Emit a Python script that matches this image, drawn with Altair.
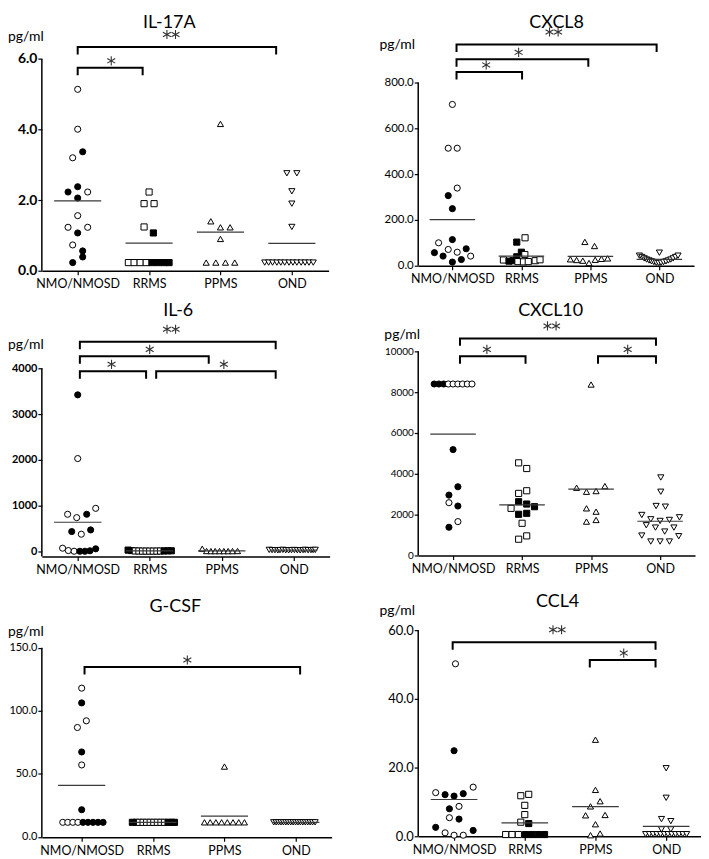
import json
import altair as alt
import pandas as pd

GROUPS = ["NMO/NMOSD", "RRMS", "PPMS", "OND"]
SHAPES = ["circle", "square", "triangle-up", "triangle-down"]

# ---------------- IL-17A ----------------
IL17A_GROUP = [0]*16 + [1]*13 + [2]*9 + [3]*18
IL17A_OFFSET = [0, 0, 0.07, -0.07, 0, -0.135, 0.14, 0, 0, -0.135, 0.14, 0, -0.07, 0.07, 0.07, -0.07,
                0, -0.07, 0.07, -0.07, 0.06, -0.29, -0.21, -0.125, -0.04, 0.04, 0.125, 0.21, 0.28,
                0, -0.135, 0, 0.135, 0, -0.2, -0.065, 0.07, 0.2,
                -0.07, 0.07, 0, 0, 0, -0.38, -0.325, -0.27, -0.21, -0.155, -0.1, -0.04, 0.015, 0.07,
                0.13, 0.185, 0.24, 0.30]
IL17A_VALUE = [5.14, 4.01, 3.37, 3.20, 2.38, 2.23, 2.23, 2.06, 1.56, 1.23, 1.23, 1.07, 0.73, 0.56, 0.39, 0.23,
               2.23, 1.90, 1.90, 1.24, 1.07, 0.23, 0.23, 0.23, 0.23, 0.23, 0.23, 0.23, 0.23,
               4.16, 1.40, 1.23, 1.23, 0.90, 0.23, 0.23, 0.23, 0.23,
               2.76, 2.76, 2.25, 1.90, 1.24, 0.23, 0.23, 0.23, 0.23, 0.23, 0.23, 0.23, 0.23, 0.23,
               0.23, 0.23, 0.23, 0.23]
IL17A_SOLID = [0, 0, 1, 0, 1, 1, 0, 1, 0, 0, 0, 1, 0, 1, 1, 1,
               0, 0, 0, 0, 1, 0, 0, 0, 0, 1, 1, 1, 1,
               0, 0, 0, 0, 0, 0, 0, 0, 0,
               0, 0, 0, 0, 0, 0, 0, 0, 0, 0, 0, 0, 0, 0, 0, 0, 0, 0]
IL17A_BR_FROM = [0.0, 0.0]
IL17A_BR_TO = [0.91, 2.78]
IL17A_BR_LEVEL = [5.75, 6.34]
IL17A_BR_LABEL = ["*", "**"]
IL17A_STAR_X = [0.47, 1.31]

# ---------------- CXCL8 ----------------
CXCL8_GROUP = [0]*16 + [1]*13 + [2]*9 + [3]*18
CXCL8_OFFSET = [0, -0.06, 0.07, 0.07, -0.06, 0, 0, -0.2, -0.06, -0.26, 0.07, 0.2, -0.135, 0.265, 0, 0.13,
                0.053, -0.067, 0, 0.05, -0.067, -0.26, -0.18, -0.12, -0.05, 0.03, 0.1, 0.2, 0.27,
                -0.08, 0.06, -0.29, -0.2, -0.11, -0.02, 0.07, 0.16, 0.25,
                0, -0.29, -0.255, -0.22, -0.185, -0.15, -0.115, -0.08, -0.045, -0.01, 0.025, 0.06,
                0.095, 0.13, 0.165, 0.2, 0.235, 0.27]
CXCL8_VALUE = [704, 513, 513, 339, 306, 249, 114, 100, 71, 57, 59, 74, 42, 42, 16, 27,
               122, 103, 59, 49, 39, 25, 20, 22, 18, 17, 18, 22, 26,
               104, 86, 28, 25, 22, 12, 26, 30, 32,
               57, 44, 38, 32, 27, 23, 19, 16, 13, 12, 13, 16, 19, 23, 27, 32, 38, 44]
CXCL8_SOLID = [0, 0, 0, 0, 1, 1, 1, 0, 0, 1, 0, 1, 1, 0, 1, 1,
               0, 1, 1, 0, 1, 0, 1, 1, 0, 0, 0, 0, 0,
               0, 0, 0, 0, 0, 0, 0, 0, 0,
               0, 0, 0, 0, 0, 0, 0, 0, 0, 0, 0, 0, 0, 0, 0, 0, 0, 0]
CXCL8_BR_FROM = [0.06, 0.06, 0.06]
CXCL8_BR_TO = [1.01, 1.97, 2.96]
CXCL8_BR_LEVEL = [846, 901, 966]
CXCL8_BR_LABEL = ["*", "*", "**"]
CXCL8_STAR_X = [0.49, 0.96, 1.47]

# ---------------- IL-6 ----------------
IL6_GROUP = [0]*16 + [1]*13 + [2]*9 + [3]*18
IL6_OFFSET = [0, 0, 0.25, -0.14, -0.014, 0.125, -0.083, 0.05, 0.18, -0.21, -0.13, -0.05, 0.03, 0.1, 0.17, 0.25,
              -0.3, -0.25, -0.2, -0.15, -0.1, -0.05, 0, 0.05, 0.1, 0.15, 0.2, 0.25, 0.3,
              -0.27, -0.21, -0.15, -0.09, -0.03, 0.03, 0.09, 0.15, 0.22,
              -0.34, -0.3, -0.26, -0.22, -0.19, -0.15, -0.11, -0.07, -0.03, 0.01, 0.05, 0.09,
              0.13, 0.16, 0.2, 0.24, 0.27, 0.3]
IL6_VALUE = [3420, 2029, 942, 812, 739, 812, 435, 377, 471, 72, 20, 5, 5, 5, 15, 58,
             30, 20, 12, 10, 8, 8, 8, 8, 8, 10, 12, 15, 15,
             60, 10, 8, 8, 8, 8, 8, 8, 10,
             35, 30, 28, 25, 30, 35, 28, 25, 30, 32, 28, 25, 30, 35, 28, 30, 32, 35]
IL6_SOLID = [1, 0, 0, 0, 0, 1, 1, 0, 1, 0, 0, 0, 1, 1, 1, 1,
             1, 1, 0, 0, 0, 0, 0, 0, 0, 0, 1, 1, 1,
             0, 0, 0, 0, 0, 0, 0, 0, 0,
             0, 0, 0, 0, 0, 0, 0, 0, 0, 0, 0, 0, 0, 0, 0, 0, 0, 0]
IL6_BR_FROM = [0.03, 1.09, 0.03, 0.03]
IL6_BR_TO = [0.95, 2.75, 1.82, 2.75]
IL6_BR_LEVEL = [3935, 3935, 4261, 4580]
IL6_BR_LABEL = ["*", "*", "*", "**"]
IL6_STAR_X = [0.47, 2.03, 1.0, 1.30]

# ---------------- CXCL10 ----------------
CXCL10_GROUP = [0]*16 + [1]*13 + [2]*9 + [3]*18
CXCL10_OFFSET = [-0.274, -0.206, -0.137, -0.069, 0, 0.069, 0.137, 0.206, 0.274, 0, 0.07, -0.06, -0.06, 0.07, 0.07, -0.06,
                 -0.05, 0.067, 0.067, -0.05, -0.05, 0.067, -0.16, 0.18, -0.05, 0.067, 0, 0.067, -0.05,
                 0, -0.21, 0.2, -0.067, 0.072, -0.067, 0.072, -0.067, 0.072,
                 0.01, 0.01, -0.058, 0.077, -0.265, 0.28, -0.135, 0, 0.135, -0.2, -0.067, 0.2,
                 0.067, -0.265, 0.27, -0.135, 0, 0.135]
CXCL10_VALUE = [8400, 8400, 8400, 8400, 8400, 8400, 8400, 8400, 8400, 5186, 3366, 2959, 2585, 2423, 1659, 1382,
                4537, 4260, 3171, 3041, 2634, 2520, 2309, 2390, 2017, 2065, 1577, 959, 797,
                8374, 3317, 3398, 3122, 3155, 2309, 2146, 1659, 1740,
                3821, 3122, 2423, 2390, 1984, 1870, 1772, 1691, 1740, 1480, 1366, 1366, 1171, 976,
                943, 683, 683, 683]
CXCL10_SOLID = [1, 1, 1, 0, 0, 0, 0, 0, 0, 1, 1, 1, 0, 1, 0, 1,
                0, 0, 0, 0, 1, 1, 0, 1, 1, 1, 0, 0, 0,
                0, 0, 0, 0, 0, 0, 0, 0, 0,
                0, 0, 0, 0, 0, 0, 0, 0, 0, 0, 0, 0, 0, 0, 0, 0, 0, 0]
CXCL10_BR_FROM = [0.1, 2.1, 0.1]
CXCL10_BR_TO = [1.05, 2.94, 2.94]
CXCL10_BR_LEVEL = [9756, 9756, 10634]
CXCL10_BR_LABEL = ["*", "*", "**"]
CXCL10_STAR_X = [0.49, 2.53, 1.43]

# ---------------- G-CSF ----------------
GCSF_GROUP = [0]*16 + [1]*13 + [2]*9 + [3]*18
GCSF_OFFSET = [0, 0, -0.06, 0.065, 0, 0, 0, -0.265, -0.195, -0.124, -0.053, 0.018, 0.088, 0.159, 0.229, 0.30,
               -0.29, -0.24, -0.19, -0.14, -0.09, -0.04, 0.01, 0.06, 0.11, 0.16, 0.21, 0.26, 0.30,
               0, -0.28, -0.2, -0.12, -0.04, 0.04, 0.12, 0.2, 0.28,
               -0.31, -0.276, -0.242, -0.208, -0.174, -0.14, -0.106, -0.072, -0.038, -0.004, 0.03,
               0.064, 0.098, 0.132, 0.166, 0.2, 0.234, 0.27]
GCSF_VALUE = [118, 106.3, 86.8, 92.1, 67.4, 57.1, 21.6, 11.6, 11.6, 11.6, 11.6, 11.6, 11.6, 11.6, 11.6, 11.6,
              11.6, 11.6, 11.6, 11.6, 11.6, 11.6, 11.6, 11.6, 11.6, 11.6, 11.6, 11.6, 11.6,
              55.8, 11.6, 11.6, 11.6, 11.6, 11.6, 11.6, 11.6, 11.6,
              11.6, 11.6, 11.6, 11.6, 11.6, 11.6, 11.6, 11.6, 11.6, 11.6, 11.6, 11.6, 11.6, 11.6,
              11.6, 11.6, 11.6, 11.6]
GCSF_SOLID = [0, 1, 0, 0, 1, 0, 1, 0, 0, 0, 0, 1, 1, 1, 1, 1,
              1, 1, 0, 0, 0, 0, 0, 0, 0, 0, 1, 1, 1,
              0, 0, 0, 0, 0, 0, 0, 0, 0,
              0, 0, 0, 0, 0, 0, 0, 0, 0, 0, 0, 0, 0, 0, 0, 0, 0, 0]
GCSF_BR_FROM = [0.04]
GCSF_BR_TO = [3.06]
GCSF_BR_LEVEL = [134.8]
GCSF_BR_LABEL = ["*"]
GCSF_STAR_X = [1.48]

# ---------------- CCL4 ----------------
CCL4_GROUP = [0]*16 + [1]*13 + [2]*9 + [3]*18
CCL4_OFFSET = [0.02, 0, -0.26, -0.127, 0, 0.13, 0.27, -0.066, 0.07, -0.066, 0.07, -0.26, -0.127, 0, 0.13, 0.27,
               -0.056, 0.056, 0, 0, -0.056, 0.056, -0.27, -0.18, -0.09, 0.01, 0.1, 0.19, 0.28,
               0, 0, 0.066, -0.07, -0.14, 0.136, 0, -0.07, 0.066,
               0, 0, -0.066, 0.066, -0.066, 0.066, -0.29, -0.237, -0.184, -0.132, -0.079, -0.026,
               0.026, 0.079, 0.132, 0.184, 0.237, 0.29]
CCL4_VALUE = [50.2, 24.9, 12.7, 12.1, 11.7, 12.4, 14.3, 8.0, 8.7, 5.4, 5.0, 2.6, 1.0, 0.3, 0.3, 1.7,
              11.8, 12.2, 9.0, 6.3, 4.1, 3.7, 0.5, 0.5, 0.5, 0.5, 0.5, 0.5, 0.5,
              28.1, 13.5, 10.2, 8.7, 6.1, 6.2, 3.5, 0.3, 0.8,
              19.8, 11.2, 5.0, 4.4, 2.0, 2.0, 0.6, 0.6, 0.6, 0.6, 0.6, 0.6, 0.6, 0.6, 0.6, 0.6, 0.6, 0.6]
CCL4_SOLID = [0, 1, 0, 1, 1, 1, 0, 1, 0, 0, 1, 1, 0, 0, 0, 1,
              0, 0, 0, 0, 0, 1, 0, 0, 0, 1, 1, 1, 1,
              0, 0, 0, 0, 0, 0, 0, 0, 0,
              0, 0, 0, 0, 0, 0, 0, 0, 0, 0, 0, 0, 0, 0, 0, 0, 0, 0]
CCL4_BR_FROM = [1.92, -0.02]
CCL4_BR_TO = [2.85, 2.85]
CCL4_BR_LEVEL = [51.3, 56.5]
CCL4_BR_LABEL = ["*", "**"]
CCL4_STAR_X = [2.40, 1.46]

FONT = "Lato"
LABEL_EXPR = json.dumps(GROUPS) + "[datum.value]"
ASTERISK = "M0,-1L0,1M-0.866,-0.5L0.866,0.5M-0.866,0.5L0.866,-0.5"


def panel(title, group, offset, value, solid, br_from, br_to, br_level, br_label, star_x, lay):
    pts = pd.DataFrame({
        "g": group,
        "off": offset,
        "value": value,
        "kind": ["filled" if s else "open" for s in solid],
        "grp": [GROUPS[i] for i in group],
    })
    xs = alt.Scale(domain=lay["xdom"], nice=False, zero=False)
    ys = alt.Scale(domain=lay["ydom"], nice=False, zero=False)

    xaxis = alt.Axis(values=[0, 1, 2, 3], labelExpr=LABEL_EXPR, title=None, grid=False,
                     domainColor="black", domainWidth=1.5, tickColor="black", tickWidth=1.2,
                     tickSize=4, labelFont=FONT, labelFontSize=12.5, labelColor="black",
                     labelPadding=3)
    yaxis = alt.Axis(values=lay["yticks"], format=lay["yfmt"], title=None, grid=False, domain=False,
                     tickColor="black", tickWidth=1.2, tickSize=4, labelFont=FONT,
                     labelFontSize=lay["ysize"], labelFontWeight=lay["yweight"], labelColor="black",
                     labelPadding=1)

    def X(f):
        return alt.X(f, scale=xs, axis=xaxis)

    def Y(f):
        return alt.Y(f, scale=ys, axis=yaxis)

    points = alt.Chart(pts).transform_calculate(pos="datum.g + datum.off").mark_point(
        filled=True, opacity=1, stroke="black", strokeWidth=1, size=38
    ).encode(
        x=X("pos:Q"),
        y=Y("value:Q"),
        fill=alt.Fill("kind:N", scale=alt.Scale(domain=["filled", "open"], range=["black", "white"]), legend=None),
        shape=alt.Shape("grp:N", scale=alt.Scale(domain=GROUPS, range=SHAPES), legend=None),
    )

    means = alt.Chart(pts).transform_aggregate(
        mean="mean(value)", groupby=["g"]
    ).transform_calculate(x1="datum.g - 0.33", x2="datum.g + 0.33").mark_rule(
        color="#3a3a3a", strokeWidth=1.2
    ).encode(x=X("x1:Q"), x2="x2:Q", y=Y("mean:Q"))

    leg = 7.5 * (lay["ydom"][1] - lay["ydom"][0]) / lay["h"]
    rows = []
    for k, (a, b, lv) in enumerate(zip(br_from, br_to, br_level)):
        rows += [
            {"bid": k, "bo": 0, "bx": a, "by": lv - leg},
            {"bid": k, "bo": 1, "bx": a, "by": lv},
            {"bid": k, "bo": 2, "bx": b, "by": lv},
            {"bid": k, "bo": 3, "bx": b, "by": lv - leg},
        ]
    brackets = alt.Chart(pd.DataFrame(rows)).mark_line(
        color="black", strokeWidth=2, strokeCap="butt", strokeJoin="miter"
    ).encode(x=X("bx:Q"), y=Y("by:Q"), detail="bid:N", order="bo:Q")

    stars_df = pd.DataFrame({"sx": star_x, "sy": br_level, "n": [len(s) for s in br_label]})
    star_layers = []
    for cond, dx, dy in [("datum.n == 1", 0, -7), ("datum.n == 2", -4.3, -12.5), ("datum.n == 2", 4.3, -12.5)]:
        star_layers.append(
            alt.Chart(stars_df).transform_filter(cond).mark_point(
                shape=ASTERISK, filled=False, opacity=1, color="#333", strokeWidth=1.1, size=85,
                xOffset=dx, yOffset=dy
            ).encode(x=X("sx:Q"), y=Y("sy:Q"))
        )

    one = pd.DataFrame({"t": [title], "u": ["pg/ml"]})
    ttl = alt.Chart(one).mark_text(font=FONT, fontSize=18, color="black", align="center",
                                    baseline="alphabetic").encode(
        x=alt.value(lay["title_xy"][0]), y=alt.value(lay["title_xy"][1]), text="t:N")
    unit = alt.Chart(one).mark_text(font=FONT, fontSize=14, color="black", align="left",
                                     baseline="alphabetic").encode(
        x=alt.value(lay["pg_xy"][0]), y=alt.value(lay["pg_xy"][1]), text="u:N")

    ax_df = pd.DataFrame({"top": [lay["yticks"][-1]], "bot": [lay["ydom"][0]]})
    yline = alt.Chart(ax_df).mark_rule(color="black", strokeWidth=1.5).encode(
        x=alt.value(0), y=Y("top:Q"), y2="bot:Q")

    return alt.layer(points, means, brackets, *star_layers, ttl, unit, yline).properties(
        width=lay["w"], height=lay["h"])


p1 = panel("IL-17A", IL17A_GROUP, IL17A_OFFSET, IL17A_VALUE, IL17A_SOLID,
           IL17A_BR_FROM, IL17A_BR_TO, IL17A_BR_LEVEL, IL17A_BR_LABEL, IL17A_STAR_X,
           dict(w=288, h=213, xdom=[-0.502, 3.515], ydom=[0, 6.01], yticks=[0, 2, 4, 6], yfmt=".1f",
                ysize=14, yweight="bold", title_xy=(128, -31), pg_xy=(-34, -18)))
p2 = panel("CXCL8", CXCL8_GROUP, CXCL8_OFFSET, CXCL8_VALUE, CXCL8_SOLID,
           CXCL8_BR_FROM, CXCL8_BR_TO, CXCL8_BR_LEVEL, CXCL8_BR_LABEL, CXCL8_STAR_X,
           dict(w=277, h=208, xdom=[-0.495, 3.502], ydom=[0, 904], yticks=[0, 200, 400, 600, 800],
                yfmt=".1f", ysize=11.5, yweight="normal", title_xy=(139, -31), pg_xy=(-39, -10)))
p3 = panel("IL-6", IL6_GROUP, IL6_OFFSET, IL6_VALUE, IL6_SOLID,
           IL6_BR_FROM, IL6_BR_TO, IL6_BR_LEVEL, IL6_BR_LABEL, IL6_STAR_X,
           dict(w=289, h=213, xdom=[-0.498, 3.499], ydom=[-109, 4522],
                yticks=[0, 1000, 2000, 3000, 4000], yfmt="d", ysize=11, yweight="bold",
                title_xy=(137, -29), pg_xy=(-34, 5)))
p4 = panel("CXCL10", CXCL10_GROUP, CXCL10_OFFSET, CXCL10_VALUE, CXCL10_SOLID,
           CXCL10_BR_FROM, CXCL10_BR_TO, CXCL10_BR_LEVEL, CXCL10_BR_LABEL, CXCL10_STAR_X,
           dict(w=278, h=212, xdom=[-0.505, 3.506], ydom=[0, 10341],
                yticks=[0, 2000, 4000, 6000, 8000, 10000], yfmt="d", ysize=10, yweight="normal",
                title_xy=(133, -29), pg_xy=(-34, -5)))
p5 = panel("G-CSF", GCSF_GROUP, GCSF_OFFSET, GCSF_VALUE, GCSF_SOLID,
           GCSF_BR_FROM, GCSF_BR_TO, GCSF_BR_LEVEL, GCSF_BR_LABEL, GCSF_STAR_X,
           dict(w=291, h=208, xdom=[-0.558, 3.501], ydom=[-0.24, 164.0], yticks=[0, 50, 100, 150],
                yfmt=".1f", ysize=11, yweight="normal", title_xy=(134, -18), pg_xy=(-34, 6)))
p6 = panel("CCL4", CCL4_GROUP, CCL4_OFFSET, CCL4_VALUE, CCL4_SOLID,
           CCL4_BR_FROM, CCL4_BR_TO, CCL4_BR_LEVEL, CCL4_BR_LABEL, CCL4_STAR_X,
           dict(w=284, h=207, xdom=[-0.507, 3.493], ydom=[0, 60], yticks=[0, 20, 40, 60],
                yfmt=".1f", ysize=13, yweight="normal", title_xy=(140, -23), pg_xy=(-39, -15)))

chart = alt.concat(p1, p2, p3, p4, p5, p6, columns=2, bounds="flush",
                   spacing={"row": 74, "column": 87}).properties(
    padding={"left": 0, "top": 4, "right": 0, "bottom": 0}
).configure_view(stroke=None)

chart.save("out.html", embed_options={"renderer": "svg", "actions": False})
